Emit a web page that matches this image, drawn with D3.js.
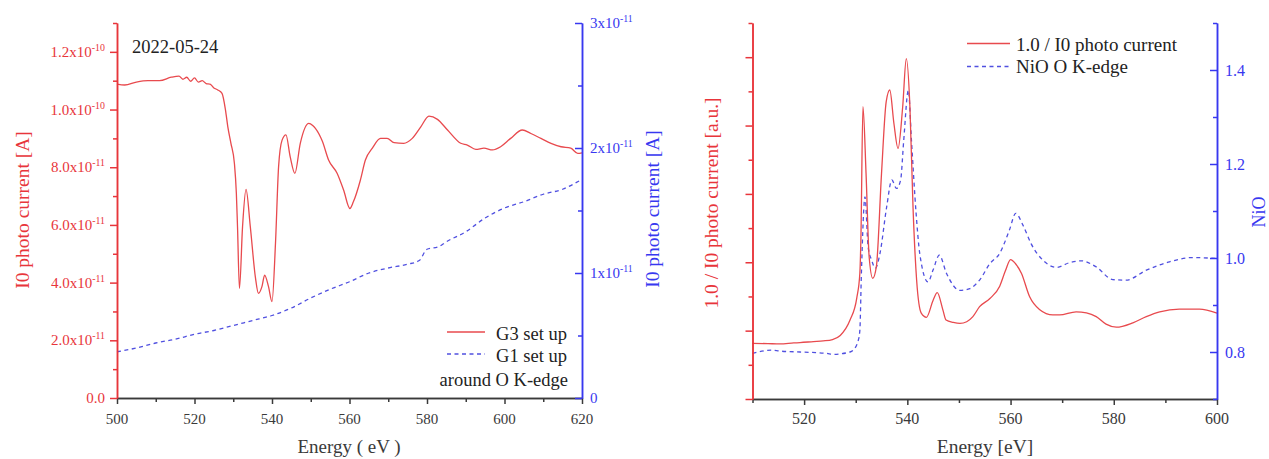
<!DOCTYPE html>
<html><head><meta charset="utf-8">
<script src="https://cdn.jsdelivr.net/npm/d3@7"></script>
<style>body{margin:0;background:#fff} svg{font-family:"Liberation Serif","Times New Roman",serif}</style>
</head><body><svg id="c" width="1269" height="459"></svg>
<script>
// ---------- Left chart data ----------
const g3Energy = [500,502,505,508,511,514,516,517,518,519,520,521,522,523,524,525,526,527.1,528,528.6,529.4,530.3,530.8,531.1,531.6,532.4,533.3,534.4,535.7,536.5,537.4,538.1,539.1,540,540.9,541.7,542.6,543.6,544.7,545.9,547.3,549.5,550.5,551.2,553,554.6,556.8,558.5,560.1,561,562.8,564.1,565.9,568,569.7,571.5,574,576.2,578.4,580.5,582.7,585.3,588.7,590.4,592.6,594.7,596.9,599,601.6,604.6,606.8,609.4,612,614.6,617.1,618.9,620];
const g3Current = [10.88,10.85,10.95,11.0,11.0,11.12,11.16,11.05,11.12,10.98,11.1,10.95,11.0,10.9,10.88,10.75,10.68,10.56,9.98,9.4,8.83,8.13,7.1,5.94,3.80,5.94,7.23,5.94,4.2,3.63,3.86,4.26,3.86,3.34,5.36,8.02,8.94,9.12,8.36,7.79,8.83,9.52,9.45,9.35,8.9,8.25,7.79,7.2,6.57,6.8,7.55,8.25,8.66,9.0,9.0,8.85,8.83,9.0,9.4,9.77,9.66,9.29,8.83,8.77,8.62,8.66,8.6,8.71,9.0,9.29,9.17,9.0,8.83,8.71,8.66,8.48,8.5].map(v => v * 1e-11);
const g1Energy = [500,505,510,515,520,525,530,535,540,545,550,555,560,565,570,575,578,580,583,585,590,595,600,605,610,615,620];
const g1Current = [0.37,0.40,0.44,0.47,0.51,0.54,0.58,0.62,0.66,0.72,0.80,0.87,0.93,1.00,1.04,1.07,1.10,1.19,1.21,1.25,1.33,1.44,1.52,1.57,1.63,1.67,1.75].map(v => v * 1e-11);
const leftXTicks = [500,520,540,560,580,600,620];
const g3Ticks = [0,2e-11,4e-11,6e-11,8e-11,1.0e-10,1.2e-10];
const g3TickText = ["0.0","2.0x10^-11","4.0x10^-11","6.0x10^-11","8.0x10^-11","1.0x10^-10","1.2x10^-10"];
const g1Ticks = [0,1e-11,2e-11,3e-11];
const g1TickText = ["0","1x10^-11","2x10^-11","3x10^-11"];

// ---------- Right chart data ----------
const invEnergy = [510,513,515.3,518,519.2,521.8,523.7,525.5,527,528.9,530.2,530.8,531,531.4,532,532.6,533.3,534,535,535.9,536.6,537.4,538.2,539.1,539.8,540.5,541.1,541.8,542.7,543.7,545,545.8,546.9,547.5,548.9,550.2,551.5,552.7,554,556,557.9,559,560,561,562.1,563.7,565.6,568.2,569.5,572.7,574.7,576.6,578.5,580.5,583.7,586.3,588.9,592.7,596.6,600];
const invI0 = [1.63,1.62,1.61,1.64,1.65,1.68,1.70,1.74,1.86,2.31,2.95,3.68,4.65,8.55,6.6,4.16,3.53,3.87,6.6,8.69,9.04,8.06,7.33,8.55,9.96,8.55,5.62,3.48,2.51,2.39,2.89,3.11,2.60,2.31,2.24,2.21,2.26,2.41,2.70,2.94,3.30,3.75,4.08,3.95,3.68,2.99,2.62,2.46,2.46,2.55,2.52,2.41,2.19,2.10,2.23,2.41,2.55,2.63,2.63,2.51];
const nioEnergy = [510,513.7,515.3,519.2,524.4,525.6,528.9,529.5,530.5,530.8,531.1,531.8,532.4,533.1,533.8,534.7,536,537,537.9,538.7,539.3,540.2,540.8,541.7,542.4,544,545,546.2,547.6,550.2,552.1,554,556,557.9,559.8,561,562.4,564,566.3,568.9,571.4,573.7,576.6,579.8,582.4,586.3,590.8,595.3,599.8];
const nioEdge = [0.797,0.804,0.802,0.80,0.797,0.795,0.80,0.804,0.825,0.846,0.967,1.13,1.024,0.995,0.978,1.01,1.109,1.166,1.148,1.166,1.25,1.357,1.25,1.095,1.01,0.949,0.975,1.006,0.967,0.931,0.935,0.953,0.988,1.01,1.06,1.095,1.07,1.03,0.995,0.98,0.99,0.994,0.981,0.954,0.953,0.974,0.992,1.001,0.999];
const rightXTicks = [520,540,560,580,600];
const nioTicks = [0.8,1.0,1.2,1.4];
const nioTickText = ["0.8","1.0","1.2","1.4"];

// ---------- styles ----------
const RED = "#e8353b", BLUE = "#3838f0", RLINE = "#e84a4e", BLINE = "#5050e0", AX = "#3a3a3a";
const svg = d3.select("#c");

function label(g, x, y, str, anchor, color, size) {
  const [base, sup] = str.split("^");
  const t = g.append("text").attr("x", x).attr("y", y).attr("text-anchor", anchor)
    .attr("fill", color).attr("font-size", size);
  t.append("tspan").text(base);
  if (sup) t.append("tspan").attr("dy", -6).attr("font-size", size * 0.66).text(sup);
}
function styleAxis(g, color, w) {
  g.selectAll("path.domain").attr("stroke", color).attr("stroke-width", w);
  g.selectAll(".tick line").attr("stroke", color).attr("stroke-width", w);
  g.selectAll(".tick text").remove();
}
function rotTitle(x, y, str, color, size) {
  svg.append("text").attr("transform", `translate(${x},${y}) rotate(-90)`)
    .attr("text-anchor", "middle").attr("dy", "0.35em").attr("fill", color)
    .attr("font-size", size).text(str);
}

// ================= LEFT CHART =================
const xL = d3.scaleLinear().domain([500, 620]).range([117, 582]);
const yL = d3.scaleLinear().domain([0, 1.3e-10]).range([398, 23]);
const yL2 = d3.scaleLinear().domain([0, 3e-11]).range([398, 23]);

const g3Data = g3Energy.map((e, i) => [e, g3Current[i]]);
const g1Data = g1Energy.map((e, i) => [e, g1Current[i]]);
svg.append("path").datum(g1Data).attr("fill", "none").attr("stroke", BLINE).attr("stroke-width", 1.3)
  .attr("stroke-dasharray", "4,3.5")
  .attr("d", d3.line().x(d => xL(d[0])).y(d => yL2(d[1])).curve(d3.curveMonotoneX));
svg.append("path").datum(g3Data).attr("fill", "none").attr("stroke", RLINE).attr("stroke-width", 1.3)
  .attr("d", d3.line().x(d => xL(d[0])).y(d => yL(d[1])).curve(d3.curveMonotoneX));

// x axis
let a = svg.append("g").attr("transform", "translate(0,398)")
  .call(d3.axisBottom(xL).tickValues(d3.range(510, 620, 20)).tickSize(4).tickSizeOuter(0));
styleAxis(a, AX, 1.5);
a = svg.append("g").attr("transform", "translate(0,398)")
  .call(d3.axisBottom(xL).tickValues(leftXTicks).tickSize(6).tickSizeOuter(0));
styleAxis(a, AX, 1.5);
leftXTicks.forEach(v => label(svg, xL(v), 424, String(v), "middle", AX, 15));

// left axis (red)
a = svg.append("g").attr("transform", "translate(117,0)")
  .call(d3.axisLeft(yL).tickValues(d3.range(1e-11, 1.35e-10, 2e-11)).tickSize(4).tickSizeOuter(0));
styleAxis(a, RED, 1.5);
a = svg.append("g").attr("transform", "translate(117,0)")
  .call(d3.axisLeft(yL).tickValues(g3Ticks).tickSize(7).tickSizeOuter(0));
styleAxis(a, RED, 1.5);
g3Ticks.forEach((v, i) => label(svg, 105, yL(v) + 5, g3TickText[i], "end", RED, 15));

// right axis (blue), ticks inward
a = svg.append("g").attr("transform", "translate(582,0)")
  .call(d3.axisRight(yL2).tickValues([0.5e-11, 1.5e-11, 2.5e-11]).tickSize(-4).tickSizeOuter(0));
styleAxis(a, BLUE, 1.5);
a = svg.append("g").attr("transform", "translate(582,0)")
  .call(d3.axisRight(yL2).tickValues(g1Ticks).tickSize(-7).tickSizeOuter(0));
styleAxis(a, BLUE, 1.5);
g1Ticks.forEach((v, i) => label(svg, 590, yL2(v) + 5, g1TickText[i], "start", BLUE, 15));

// titles
label(svg, 349, 453, "Energy ( eV )", "middle", AX, 19);
rotTitle(22, 210, "I0 photo current [A]", RED, 19.5);
rotTitle(652, 209, "I0 photo current [A]", BLUE, 19.5);
label(svg, 132, 53, "2022-05-24", "start", "#222", 18.5);

// legend
svg.append("line").attr("x1", 447).attr("x2", 485).attr("y1", 332).attr("y2", 332).attr("stroke", RLINE).attr("stroke-width", 1.3);
svg.append("line").attr("x1", 447).attr("x2", 485).attr("y1", 354).attr("y2", 354).attr("stroke", BLINE).attr("stroke-width", 1.3).attr("stroke-dasharray", "4,3.5");
label(svg, 567, 339.5, "G3 set up", "end", "#222", 18.5);
label(svg, 567, 362, "G1 set up", "end", "#222", 18.5);
label(svg, 568, 385.5, "around O K-edge", "end", "#222", 18.5);

// ================= RIGHT CHART =================
const xR = d3.scaleLinear().domain([510, 600]).range([752.5, 1217]);
const yR = d3.scaleLinear().domain([0, 11]).range([399, 23]);
const yR2 = d3.scaleLinear().domain([0.7, 1.5]).range([399, 23]);

const invData = invEnergy.map((e, i) => [e, invI0[i]]);
const nioData = nioEnergy.map((e, i) => [e, nioEdge[i]]);
svg.append("path").datum(nioData).attr("fill", "none").attr("stroke", BLINE).attr("stroke-width", 1.3)
  .attr("stroke-dasharray", "4,3.5")
  .attr("d", d3.line().x(d => xR(d[0])).y(d => yR2(d[1])).curve(d3.curveMonotoneX));
svg.append("path").datum(invData).attr("fill", "none").attr("stroke", RLINE).attr("stroke-width", 1.3)
  .attr("d", d3.line().x(d => xR(d[0])).y(d => yR(d[1])).curve(d3.curveMonotoneX));

a = svg.append("g").attr("transform", "translate(0,399)")
  .call(d3.axisBottom(xR).tickValues(d3.range(510, 600, 20)).tickSize(4).tickSizeOuter(0));
styleAxis(a, AX, 1.5);
a = svg.append("g").attr("transform", "translate(0,399)")
  .call(d3.axisBottom(xR).tickValues(rightXTicks).tickSize(6).tickSizeOuter(0));
styleAxis(a, AX, 1.5);
rightXTicks.forEach(v => label(svg, xR(v), 424, String(v), "middle", AX, 16));

a = svg.append("g").attr("transform", "translate(752.5,0)")
  .call(d3.axisLeft(yR).tickValues(d3.range(1, 12, 2)).tickSize(4).tickSizeOuter(0));
styleAxis(a, RED, 1.5);
a = svg.append("g").attr("transform", "translate(752.5,0)")
  .call(d3.axisLeft(yR).tickValues(d3.range(0, 11, 2)).tickSize(7).tickSizeOuter(0));
styleAxis(a, RED, 1.5);

a = svg.append("g").attr("transform", "translate(1217,0)")
  .call(d3.axisRight(yR2).tickValues([0.7, 0.9, 1.1, 1.3, 1.5]).tickSize(-4).tickSizeOuter(0));
styleAxis(a, BLUE, 1.5);
a = svg.append("g").attr("transform", "translate(1217,0)")
  .call(d3.axisRight(yR2).tickValues(nioTicks).tickSize(-7).tickSizeOuter(0));
styleAxis(a, BLUE, 1.5);
nioTicks.forEach((v, i) => label(svg, 1225, yR2(v) + 5.5, nioTickText[i], "start", BLUE, 16));

label(svg, 985, 453, "Energy [eV]", "middle", AX, 19.5);
rotTitle(711, 203, "1.0 / I0 photo current [a.u.]", RED, 19.5);
rotTitle(1259, 212, "NiO", BLUE, 18);

svg.append("line").attr("x1", 967).attr("x2", 1010).attr("y1", 43.5).attr("y2", 43.5).attr("stroke", RLINE).attr("stroke-width", 1.3);
svg.append("line").attr("x1", 967).attr("x2", 1010).attr("y1", 66.5).attr("y2", 66.5).attr("stroke", BLINE).attr("stroke-width", 1.3).attr("stroke-dasharray", "4,3.5");
label(svg, 1016, 50.5, "1.0 / I0 photo current", "start", "#222", 19);
label(svg, 1016, 73, "NiO O K-edge", "start", "#222", 19);
</script></body></html>
